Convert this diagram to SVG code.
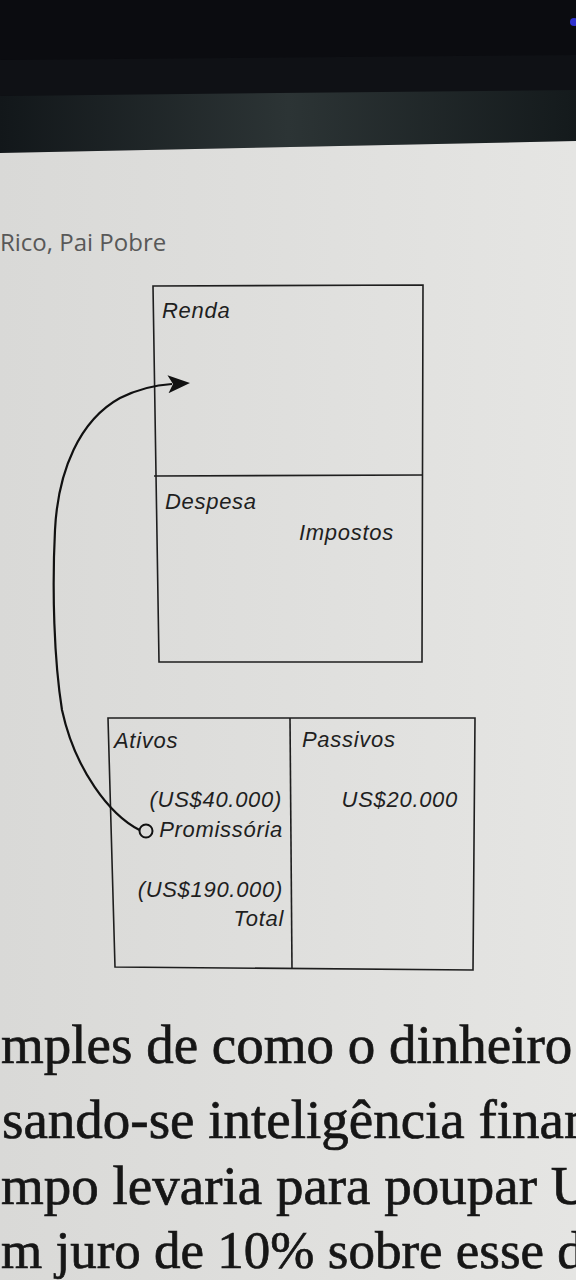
<svg xmlns="http://www.w3.org/2000/svg" width="576" height="1280" viewBox="0 0 576 1280">
  <style>
    .box { fill: none; stroke: #1e1e1e; stroke-width: 1.6; }
    .lbl { font-family: "Liberation Sans", Arial, sans-serif; font-style: italic; font-size: 22px; letter-spacing: 0.7px; fill: #1f1f1f; }
    .r { text-anchor: end; }
    .body { font-family: "Liberation Serif", "Times New Roman", serif; font-size: 55px; fill: #161616; stroke: #161616; stroke-width: 0.7; }
    .hdr { font-family: "Open Sans", "Noto Sans", sans-serif; font-size: 24px; fill: #585858; }
    .conn { fill: none; stroke: #111; stroke-width: 2.2; }
  </style>
  <defs>
    <linearGradient id="page" x1="0" y1="0" x2="1" y2="0">
      <stop offset="0" stop-color="#d9d9d7"/>
      <stop offset="1" stop-color="#e5e5e3"/>
    </linearGradient>
    <linearGradient id="band" x1="0" y1="0" x2="1" y2="0">
      <stop offset="0" stop-color="#12171a"/>
      <stop offset="0.5" stop-color="#2c3435"/>
      <stop offset="1" stop-color="#141a1c"/>
    </linearGradient>
    <marker id="ah" viewBox="0 0 22 18" refX="4" refY="9" markerWidth="22" markerHeight="18" markerUnits="userSpaceOnUse" orient="auto">
      <path d="M0,0 L22,9 L0,18 L5,9 Z" fill="#111"/>
    </marker>
  </defs>

  <!-- photo scene background -->
  <rect x="0" y="0" width="576" height="1280" fill="#0b0c10"/>
  <path d="M0,60 L576,55 L576,92 L0,96 Z" fill="#0f1115"/>
  <path d="M0,96 L576,90 L576,141 L0,153 Z" fill="url(#band)"/>
  <path d="M0,153 L576,141 L576,1280 L0,1280 Z" fill="url(#page)"/>
  <circle cx="574" cy="22" r="4" fill="#3a3cff" opacity="0.8"/>

  <text class="hdr" x="0" y="251">Rico, Pai Pobre</text>

  <g id="renda-despesa">
    <path class="box" d="M153,286 L423,285 L422,662 L159,662 Z"/>
    <line class="box" x1="154" y1="476" x2="423" y2="475"/>
    <text class="lbl" x="162" y="318">Renda</text>
    <text class="lbl" x="165" y="509">Despesa</text>
    <text class="lbl" x="299" y="540">Impostos</text>
  </g>

  <g id="ativos-passivos">
    <path class="box" d="M108,718 L475,718 L473,970 L115,967 Z"/>
    <line class="box" x1="290" y1="718" x2="292" y2="969"/>
    <text class="lbl" x="114" y="748">Ativos</text>
    <text class="lbl" x="302" y="747">Passivos</text>
    <text class="lbl r" x="282" y="807">(US$40.000)</text>
    <text class="lbl r" x="458" y="807">US$20.000</text>
    <text class="lbl r" x="283" y="837">Promissória</text>
    <text class="lbl r" x="283" y="897">(US$190.000)</text>
    <text class="lbl r" x="284" y="926">Total</text>
  </g>

  <g id="connectors">
    <circle cx="146" cy="831" r="6.5" fill="none" stroke="#111" stroke-width="2"/>
    <path class="conn" marker-end="url(#ah)" d="M139.5,830 C110,815 75,770 62,710 C54,660 52,590 55,530 C58,470 80,420 120,398 C140,388 155,385 172,384"/>
  </g>

  <g id="body-text">
    <text class="body" x="1" y="1063">mples de como o dinheiro</text>
    <text class="body" x="2" y="1138">sando-se inteligência finan</text>
    <text class="body" x="1" y="1204">mpo levaria para poupar U</text>
    <text class="body" x="1" y="1268" style="font-size:53px">m juro de 10% sobre esse d</text>
  </g>
</svg>
